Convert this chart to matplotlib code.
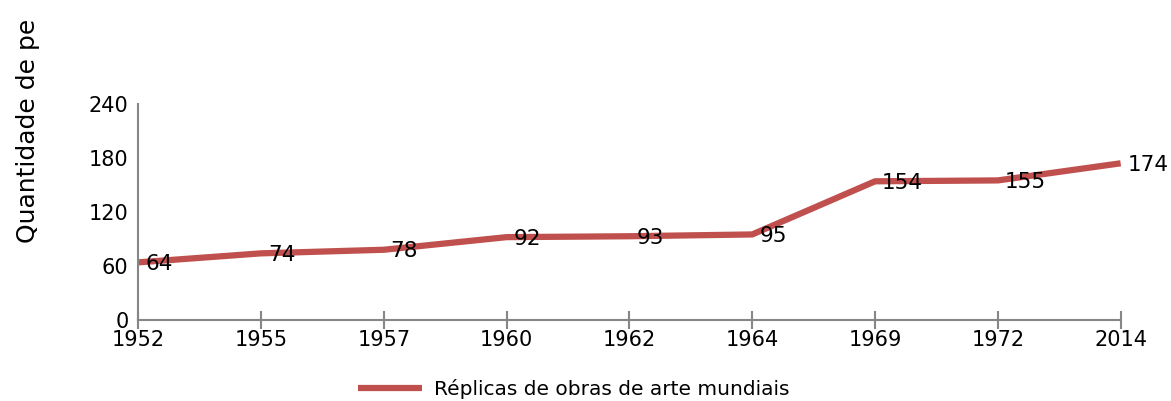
import matplotlib.pyplot as plt

# Quantidade de peças por ano
anos = ['1952', '1955', '1957', '1960', '1962', '1964', '1969', '1972', '2014']
replicas = [64, 74, 78, 92, 93, 95, 154, 155, 174]
y_ticks = [0, 60, 120, 180, 240]

fig = plt.figure(figsize=(11.71, 4.01), dpi=100)
ax = fig.add_axes([0.118, 0.202, 0.839, 0.539])

x = list(range(len(anos)))
ax.plot(x, replicas, color='#C0504D', lw=4.5, solid_capstyle='butt',
        label='Réplicas de obras de arte mundiais')
for xi, v in zip(x, replicas):
    ax.annotate(str(v), (xi, v), xytext=(5, -1), textcoords='offset points',
                ha='left', va='center', fontsize=15.5)

ax.set_xlim(0, len(anos) - 1)
ax.set_ylim(0, 240)
ax.set_xticks(x)
ax.set_xticklabels(anos, fontsize=15)
ax.set_yticks(y_ticks)
ax.set_yticklabels([str(t) for t in y_ticks], fontsize=15)
ax.tick_params(axis='x', direction='inout', length=13, width=1.5, color='#868686', pad=1)
ax.tick_params(axis='y', length=0, pad=7)
for s in ['top', 'right']:
    ax.spines[s].set_visible(False)
for s in ['left', 'bottom']:
    ax.spines[s].set_color('#868686')
    ax.spines[s].set_linewidth(1.5)

fig.text(0.024, 0.673, 'Quantidade de pe', rotation=90,
         ha='center', va='center', fontsize=18)
fig.legend(loc='center', bbox_to_anchor=(0.49, 0.03), frameon=False, fontsize=14.5,
           handlelength=3.2, handletextpad=0.6)

fig.savefig('out.png')
